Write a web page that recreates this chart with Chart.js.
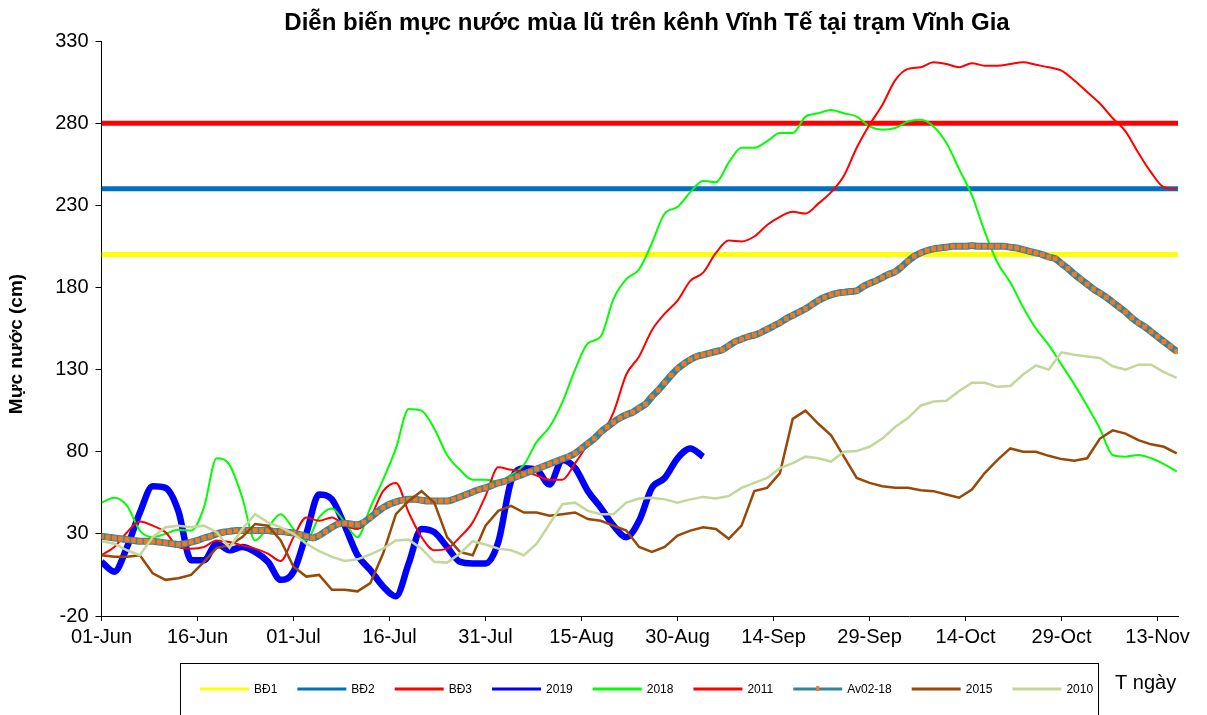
<!DOCTYPE html>
<html>
<head>
<meta charset="utf-8">
<script src="https://cdn.jsdelivr.net/npm/chart.js@4.4.1/dist/chart.umd.min.js"></script>
<style>
  body { margin: 0; background: #fff; }
  canvas { display: block; }
</style>
</head>
<body>
<canvas id="chart" width="1207" height="715"></canvas>
<script>
// Data (days counted from 01-Jun)
const tickDays = [0, 15, 30, 45, 60, 75, 90, 105, 120, 135, 150, 165];
const tickLabels = ['01-Jun', '16-Jun', '01-Jul', '16-Jul', '31-Jul', '15-Aug', '30-Aug', '14-Sep', '29-Sep', '14-Oct', '29-Oct', '13-Nov'];
const yTicks = [-20, 30, 80, 130, 180, 230, 280, 330];
const X_MAX = 168.2;

// alarm levels
const bd1 = 200;
const bd2 = 240;
const bd3 = 280;

// yearly series, one value every 2 days
const STEP = 2;
const y2019 = [13, 7, 22, 43, 59, 58, 44, 14, 14, 24, 20, 22, 19, 13, 2, 7, 30, 54, 51, 35,
  17, 8, -2, -8, 12, 33, 31, 22, 13, 12, 12, 25, 62, 70, 69, 60, 75, 70, 56, 46,
  35, 28, 38, 58, 64, 76, 82, 77];
const y2018 = [49, 52, 47, 32, 28, 30, 32.5, 32, 46, 76, 72, 52, 26, 34, 42, 33, 26, 40, 45.5, 37,
  28, 46, 63, 82, 106, 105, 94, 78, 69, 63, 63, 62, 66, 72, 86, 95, 110, 130, 146, 150,
  173, 185, 191, 207, 225, 229, 238, 245, 244, 256, 265, 265, 269, 274, 274, 284, 286, 288, 286, 284,
  278, 276, 277, 281, 282, 278, 268, 252, 236, 214, 195, 183, 168, 155, 145, 133, 121, 108, 94, 78,
  77, 78, 76, 72.5, 68];
const y2011 = [17, 22, 31, 37.5, 35, 31, 22, 21, 22, 26, 25, 23, 21, 18, 13.5, 28, 40, 38, 40, 35,
  33, 40, 56, 61, 43, 28, 20, 21, 28, 37, 53, 70.5, 69, 68, 65.5, 63, 63, 73, 84, 90,
  104, 127, 138, 154, 164, 172, 184, 189, 201, 208.5, 208, 211, 218, 223, 226, 225, 231, 238, 248, 265,
  279, 291, 306, 313, 314, 317, 316, 314, 316.5, 315, 315, 316, 317, 315.5, 314, 312, 306, 299, 292, 283,
  275, 262, 250, 241, 240];
const y2015 = [17, 16, 16, 17, 6, 2, 3, 5, 13, 21.5, 23, 28, 36, 35, 26, 10, 4, 5, -4, -4,
  -5, 0, 18, 42, 50, 56, 49, 28, 19, 17, 35, 44, 47, 43, 43, 41, 42, 43, 39, 38,
  35, 32, 22, 19, 22, 29, 32, 34, 33, 27, 35, 56, 58, 67, 100, 105, 97, 90, 77, 64,
  61, 59, 58, 58, 56.5, 56, 54, 52, 57, 67, 75, 82, 80, 80, 77.5, 75.5, 74.5, 76, 88, 93,
  91, 87, 84.5, 83, 79];
const y2010 = [25.5, 24, 20, 17, 28, 34, 35, 34, 35, 31, 21.5, 33, 42, 37, 34, 30, 24, 19.5, 16, 13.5,
  14.5, 17.5, 21, 26, 26.5, 21, 13, 12.5, 18, 25.5, 23.5, 21, 20, 17, 24, 36, 48, 49, 44, 42,
  42, 49, 51.5, 52, 51, 49, 51, 52.5, 51.5, 53, 58, 61, 64, 70, 73, 77, 76, 74, 80, 80.5,
  83, 88, 95, 100.5, 108, 110.5, 111, 117, 122, 122, 119.5, 120, 127, 132.5, 130, 140.5, 139, 138, 137, 132,
  130, 133, 133, 128.5, 125];

// 2002-2018 average, daily
const yAvg = [
  28.5, 28, 27.5, 27, 26.5, 26, 25.5, 25.5, 25.5, 25,
  24.5, 24, 23.5, 24, 25, 26, 27.5, 28.5, 30, 31,
  31.5, 32, 32, 32, 32, 32, 32, 31.5, 31.5, 31,
  30.5, 29.5, 28.5, 27.5, 29, 31.5, 34, 36, 36.5, 36,
  35.5, 37, 40, 43, 46, 48, 49.5, 50.5, 51, 51,
  50.5, 50, 50, 50, 50, 51, 52.5, 54, 55.5, 57,
  58, 59.5, 61, 62, 63.5, 65, 66.5, 68, 69.5, 71,
  72.5, 74, 75.5, 77, 79, 82, 85, 88, 92, 95,
  98, 100.5, 102.5, 104, 106.5, 109, 113.5, 117.5, 122, 126.5,
  130.5, 133.5, 136, 138, 139, 140, 141, 142, 144.5, 147,
  148.5, 150, 151, 152.5, 154.5, 156.5, 158.5, 161, 163, 165,
  167, 169.5, 172, 174, 175.5, 176.5, 177, 177.5, 178, 180.5,
  182.5, 184, 186, 188, 189.5, 192.5, 196, 199, 201, 202.5,
  203.5, 204, 204.5, 205, 205, 205, 205.5, 205, 205, 205,
  205, 205, 204.5, 204, 203, 202, 201, 200, 198.5, 197.5,
  194.5, 191.5, 188, 185, 182, 179, 176.5, 174, 171, 168,
  165, 161.5, 158.5, 156, 153, 150, 147, 144, 141
];

const FONT = '"Liberation Sans", Arial, sans-serif';

function toPoints(values, step) {
  return values.map((v, i) => ({ x: i * step, y: v }));
}

function level(v) {
  return [{ x: 0, y: v }, { x: X_MAX, y: v }];
}

const seriesDefs = [
  { label: 'BĐ1', data: level(bd1), color: '#FFFF00', width: 5 },
  { label: 'BĐ2', data: level(bd2), color: '#0070C0', width: 5 },
  { label: 'BĐ3', data: level(bd3), color: '#FF0000', width: 5 },
  { label: '2019', data: toPoints(y2019, STEP), color: '#0000FF', width: 6.5, smooth: true },
  { label: '2018', data: toPoints(y2018, STEP), color: '#00FF00', width: 2, smooth: true },
  { label: '2011', data: toPoints(y2011, STEP), color: '#FF0000', width: 2, smooth: true },
  { label: 'Av02-18', data: toPoints(yAvg, 1), color: '#31859C', width: 7, smooth: true, marker: '#F47920' },
  { label: '2015', data: toPoints(y2015, STEP), color: '#984807', width: 2.5 },
  { label: '2010', data: toPoints(y2010, STEP), color: '#C4D79B', width: 2.5 }
];

const datasets = seriesDefs.map((s, i) => ({
  label: s.label,
  data: s.data,
  borderColor: s.color,
  backgroundColor: s.color,
  borderWidth: s.width,
  tension: s.smooth ? 0.4 : 0,
  cubicInterpolationMode: s.smooth ? 'monotone' : 'default',
  pointRadius: s.marker ? 3.2 : 0,
  pointStyle: 'rect',
  pointBackgroundColor: s.marker || s.color,
  pointBorderColor: s.marker || s.color,
  pointBorderWidth: 0.5,
  markerColor: s.marker,
  fill: false,
  // later series in the list sit on top, like the original sheet
  order: seriesDefs.length - i
}));

// title, axis title and the boxed legend at the bottom
const decorations = {
  id: 'decorations',
  afterDraw(chart) {
    const ctx = chart.ctx;
    ctx.save();
    ctx.fillStyle = '#000';

    ctx.font = 'bold 24px ' + FONT;
    ctx.textAlign = 'center';
    ctx.textBaseline = 'middle';
    ctx.fillText('Diễn biến mực nước mùa lũ trên kênh Vĩnh Tế tại trạm Vĩnh Gia', 647, 23);

    ctx.save();
    ctx.translate(17, 344);
    ctx.rotate(-Math.PI / 2);
    ctx.font = 'bold 19px ' + FONT;
    ctx.fillText('Mực nước (cm)', 0, 0);
    ctx.restore();

    ctx.strokeStyle = '#000';
    ctx.lineWidth = 1;
    ctx.strokeRect(180.5, 663.5, 918, 60);

    ctx.font = '12px ' + FONT;
    ctx.textAlign = 'left';
    let x = 200;
    const y = 689;
    chart.data.datasets.forEach(ds => {
      ctx.strokeStyle = ds.borderColor;
      ctx.lineWidth = 3;
      ctx.beginPath();
      ctx.moveTo(x, y);
      ctx.lineTo(x + 49, y);
      ctx.stroke();
      if (ds.markerColor) {
        ctx.fillStyle = ds.markerColor;
        ctx.fillRect(x + 23, y - 3, 3, 5);
      }
      ctx.fillStyle = '#000';
      ctx.fillText(ds.label, x + 54, y + 1);
      x += 54 + ctx.measureText(ds.label).width + 20;
    });

    ctx.font = '20px ' + FONT;
    ctx.fillText('T ngày', 1115, 683);
    ctx.restore();
  }
};

const ctx = document.getElementById('chart').getContext('2d');
new Chart(ctx, {
  type: 'line',
  data: { datasets: datasets },
  plugins: [decorations],
  options: {
    responsive: false,
    animation: false,
    layout: { padding: { top: 41, right: 29, bottom: 0, left: 0 } },
    plugins: {
      legend: { display: false },
      title: { display: false },
      tooltip: { enabled: false }
    },
    scales: {
      x: {
        type: 'linear',
        min: 0,
        max: X_MAX,
        afterBuildTicks: scale => { scale.ticks = tickDays.map(v => ({ value: v })); },
        afterFit: scale => { scale.height = 99; },
        ticks: {
          callback: (value, index) => tickLabels[index],
          font: { size: 20, family: FONT },
          color: '#000',
          padding: 4,
          maxRotation: 0,
          autoSkip: false
        },
        grid: { drawOnChartArea: false, drawTicks: true, tickLength: 5, color: '#000' },
        border: { color: '#000', width: 1 }
      },
      y: {
        min: -20,
        max: 330,
        afterBuildTicks: scale => { scale.ticks = yTicks.map(v => ({ value: v })); },
        afterFit: scale => { scale.width = 101.5; },
        ticks: {
          font: { size: 20, family: FONT },
          color: '#000',
          padding: 7
        },
        grid: { drawOnChartArea: false, drawTicks: true, tickLength: 6, color: '#000' },
        border: { color: '#000', width: 1 }
      }
    }
  }
});
</script>
</body>
</html>
